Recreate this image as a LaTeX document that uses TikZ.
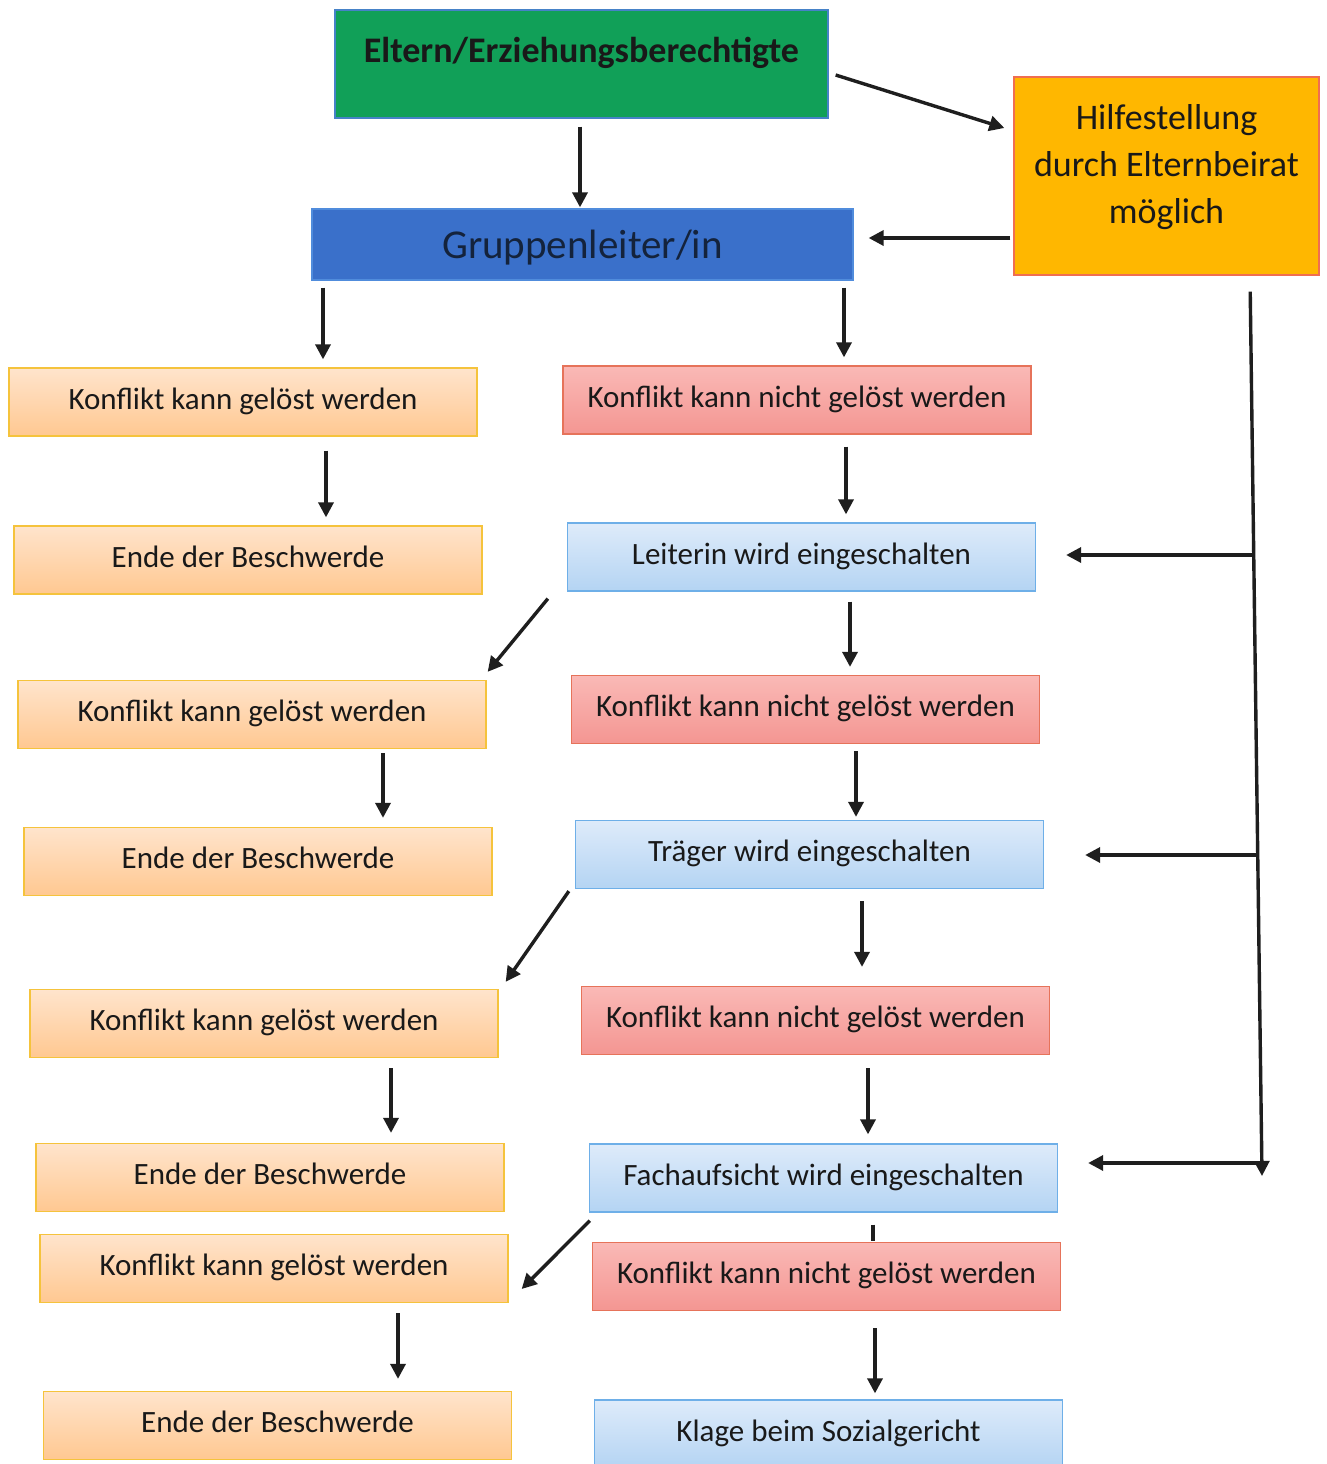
\documentclass[tikz,border=0pt]{standalone}
\usepackage{fontspec}
\setmainfont{Carlito}
\usetikzlibrary{arrows.meta,calc}
\definecolor{txt}{RGB}{25,25,25}
\definecolor{eltfill}{RGB}{17,160,88}
\definecolor{eltdraw}{RGB}{70,130,200}
\definecolor{grpfill}{RGB}{58,112,202}
\definecolor{grpdraw}{RGB}{80,140,220}
\definecolor{grptxt}{RGB}{20,35,60}
\definecolor{hlpfill}{RGB}{255,183,0}
\definecolor{hlpdraw}{RGB}{240,110,80}
\definecolor{orgtop}{RGB}{255,228,204}
\definecolor{orgbot}{RGB}{255,200,145}
\definecolor{orgdraw}{RGB}{245,195,60}
\definecolor{redtop}{RGB}{250,185,182}
\definecolor{redbot}{RGB}{244,150,146}
\definecolor{reddraw}{RGB}{230,115,90}
\definecolor{blutop}{RGB}{222,235,250}
\definecolor{blubot}{RGB}{180,212,243}
\definecolor{bludraw}{RGB}{110,175,232}
\definecolor{arrcol}{RGB}{30,30,30}
\begin{document}
\begin{tikzpicture}[x=1pt,y=-1pt,
  basebox/.style={line width=1.3pt, inner sep=0pt, text=txt,
    font=\fontsize{31}{37}\selectfont, text height=22pt, text depth=8pt},
  okbox/.style={basebox, draw=orgdraw, top color=orgtop, bottom color=orgbot,
    minimum width=468pt, minimum height=68pt},
  nobox/.style={basebox, draw=reddraw, top color=redtop, bottom color=redbot,
    minimum width=468pt, minimum height=68pt},
  stagebox/.style={basebox, draw=bludraw, top color=blutop, bottom color=blubot,
    minimum width=468pt, minimum height=68pt},
  arr/.style={draw=arrcol, line width=3.4pt, -{Triangle[length=15pt,width=15pt]}},
  plainline/.style={draw=arrcol, line width=3.4pt}
]
\useasboundingbox (0,0) rectangle (1326,1464);
\fill[white] (0,0) rectangle (1326,1464);

% top nodes
\node[basebox, draw=eltdraw, fill=eltfill, minimum width=493pt, minimum height=108pt,
  font=\fontsize{36}{42}\selectfont\bfseries, text height=22pt, text depth=24pt]
  (E) at (581.5,64) {Eltern/Erziehungsberechtigte};
\node[basebox, draw=grpdraw, fill=grpfill, minimum width=541pt, minimum height=71pt,
  text=grptxt, font=\fontsize{41}{47}\selectfont, text height=30pt, text depth=3pt]
  (G) at (582.5,244.5) {Gruppenleiter/in};
\node[basebox, draw=hlpdraw, fill=hlpfill, minimum width=305pt, minimum height=198pt,
  label={[text=txt, align=center, font=\fontsize{36}{47}\selectfont, yshift=9pt]center:Hilfestellung\\durch Elternbeirat\\möglich}]
  (H) at (1166.5,176) {};

% left column
\node[okbox] (L1) at (243,402) {Konflikt kann gelöst werden};
\node[okbox] (L2) at (248,560) {Ende der Beschwerde};
\node[okbox] (L3) at (252,714.5) {Konflikt kann gelöst werden};
\node[okbox] (L4) at (258,861.5) {Ende der Beschwerde};
\node[okbox] (L5) at (264,1023.5) {Konflikt kann gelöst werden};
\node[okbox] (L6) at (270,1177.5) {Ende der Beschwerde};
\node[okbox] (L7) at (274,1268.5) {Konflikt kann gelöst werden};
\node[okbox] (L8) at (277.5,1425.5) {Ende der Beschwerde};

% right column
\node[nobox] (R1) at (797,400) {Konflikt kann nicht gelöst werden};
\node[stagebox] (R2) at (801.5,557) {Leiterin wird eingeschalten};
\node[nobox] (R3) at (805.5,709.5) {Konflikt kann nicht gelöst werden};
\node[stagebox] (R4) at (809.5,854.5) {Träger wird eingeschalten};
\node[nobox] (R5) at (815.5,1020.5) {Konflikt kann nicht gelöst werden};
\node[stagebox] (R6) at (823.5,1178) {Fachaufsicht wird eingeschalten};
\node[nobox] (R7) at (826.5,1276.5) {Konflikt kann nicht gelöst werden};
\node[stagebox] (R8) at (828.5,1434) {Klage beim Sozialgericht};

% top arrows
\draw[arr, shorten <=8pt, shorten >=1pt] (E.south -| 580,0) -- (G.north -| 580,0);
\draw[arr] ($(E.east)+(7,11)$) -- ($(H.west)+(-9,-48)$);
\draw[arr, shorten <=3pt, shorten >=15pt] (H.west |- 0,238) -- (G.east |- 0,238);
\draw[arr, shorten <=7pt, shorten >=8pt] (G.south -| 323,0) -- (L1.north -| 323,0);
\draw[arr, shorten <=7pt, shorten >=8pt] (G.south -| 844,0) -- (R1.north -| 844,0);

% left column arrows
\draw[arr, shorten <=14pt, shorten >=8pt] (L1.south -| 326,0) -- (L2.north -| 326,0);
\draw[arr, shorten <=4pt, shorten >=9pt] (L3.south -| 383,0) -- (L4.north -| 383,0);
\draw[arr, shorten <=10pt, shorten >=10pt] (L5.south -| 391,0) -- (L6.north -| 391,0);
\draw[arr, shorten <=10pt, shorten >=12pt] (L7.south -| 398,0) -- (L8.north -| 398,0);

% right column arrows
\draw[arr, shorten <=12pt, shorten >=8pt] (R1.south -| 846,0) -- (R2.north -| 846,0);
\draw[arr, shorten <=10pt, shorten >=8pt] (R2.south -| 850,0) -- (R3.north -| 850,0);
\draw[arr, shorten <=7pt, shorten >=3pt] (R3.south -| 856,0) -- (R4.north -| 856,0);
\draw[arr, shorten <=12pt, shorten >=19pt] (R4.south -| 862,0) -- (R5.north -| 862,0);
\draw[arr, shorten <=13pt, shorten >=9pt] (R5.south -| 868,0) -- (R6.north -| 868,0);
\draw[plainline, shorten <=12pt, shorten >=1pt] (R6.south -| 873,0) -- (R7.north -| 873,0);
\draw[arr, shorten <=17pt, shorten >=6pt] (R7.south -| 875,0) -- (R8.north -| 875,0);

% diagonal arrows
\draw[arr] ($(R2.south west)+(-19,7)$) -- ($(L3.north east)+(1,-8)$);
\draw[arr] ($(R4.south west)+(-6,2)$) -- ($(L5.north east)+(7,-7)$);
\draw[arr] ($(R6.south west)+(1,8)$) -- ($(L7.east)+(13,20.5)$);

% right side line
\coordinate (rb) at (1262,1176);
\coordinate (b1) at (1253,555);
\coordinate (b2) at (1257,855);
\coordinate (b3) at (1262,1163);
\draw[arr, shorten <=16pt] (H.south -| 1250,0) -- (rb);
\draw[arr, shorten >=30pt] (b1) -- (R2.east |- b1);
\draw[arr, shorten >=41pt] (b2) -- (R4.east |- b2);
\draw[arr, shorten >=30pt] (b3) -- (R6.east |- b3);
\end{tikzpicture}
\end{document}
